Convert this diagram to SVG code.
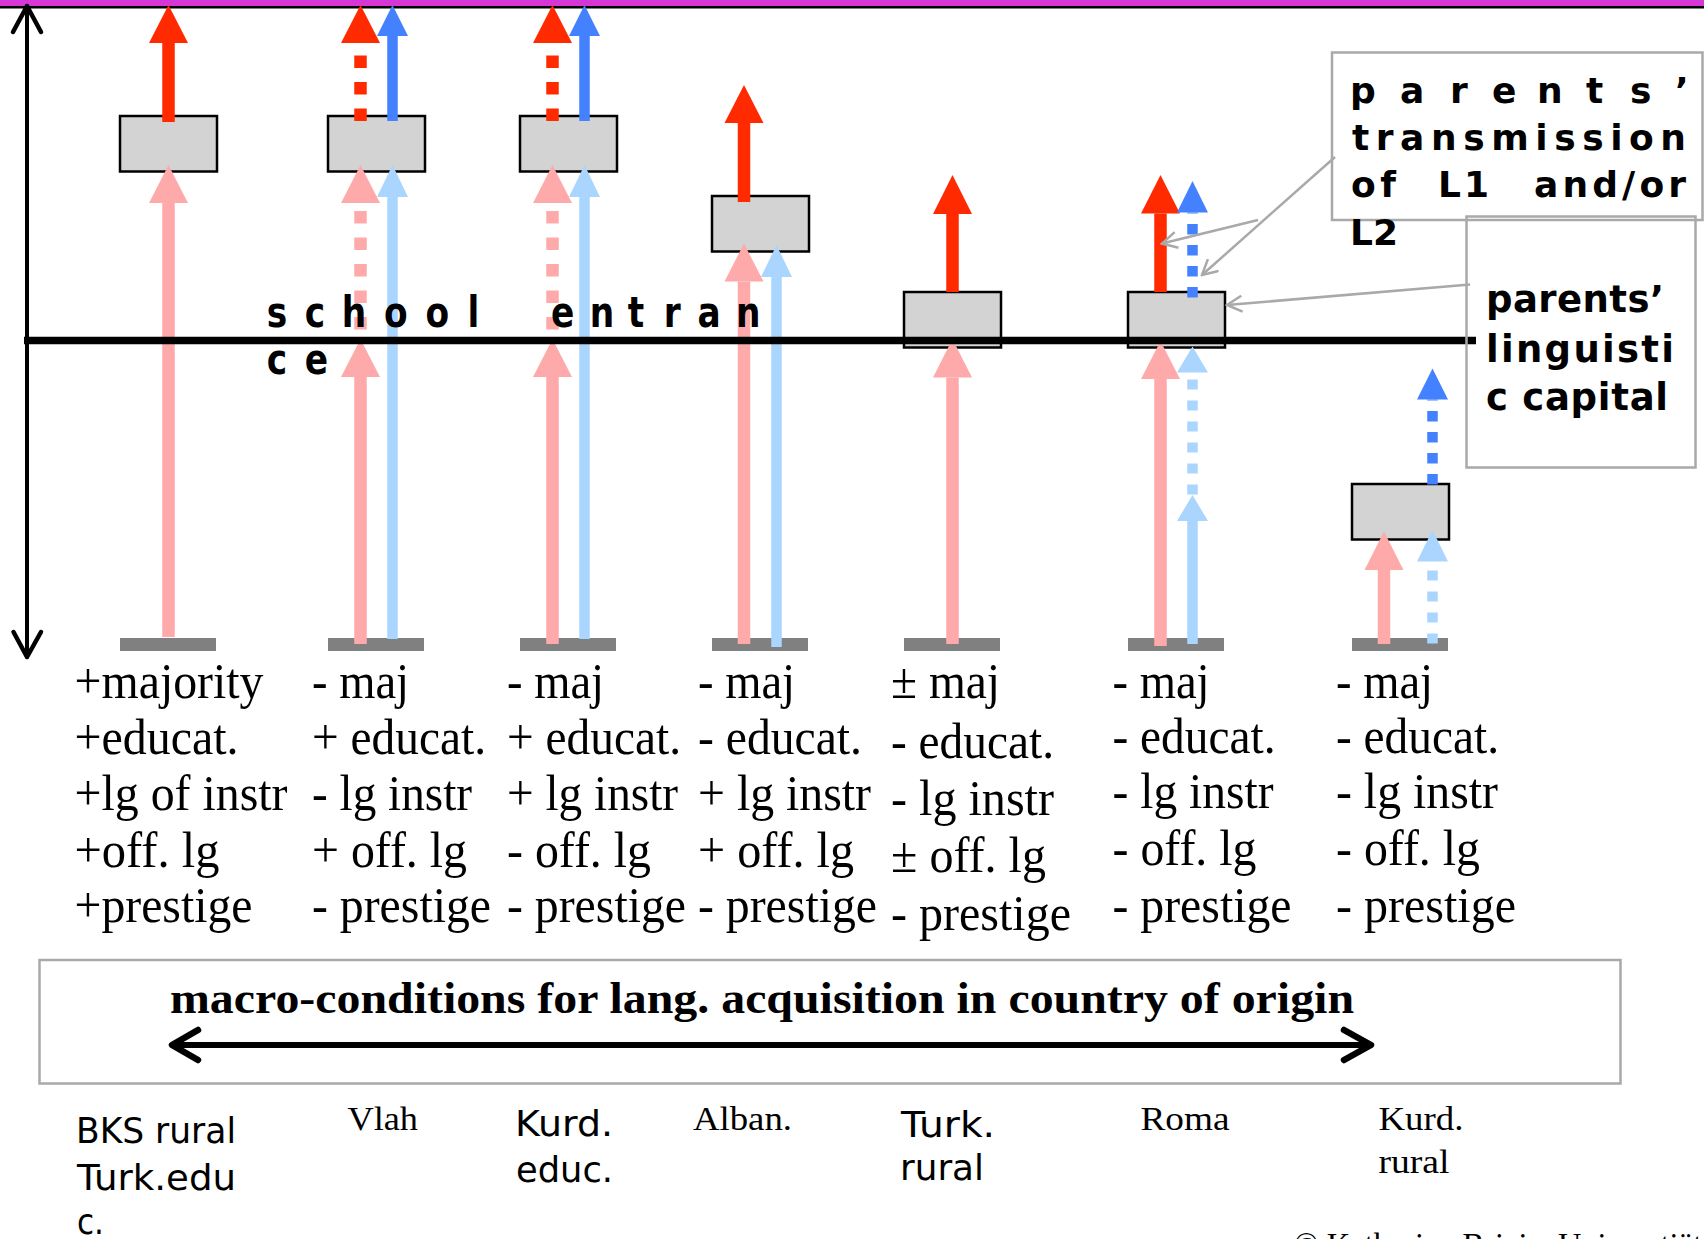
<svg xmlns="http://www.w3.org/2000/svg" width="1704" height="1239" viewBox="0 0 1704 1239">
  <defs>
    <style>
      .box { fill: #D3D3D3; stroke: #000; stroke-width: 2.5; }
      .base { fill: #808080; }
      .frame { fill: none; stroke: #A9A9A9; stroke-width: 2.5; }
      .callout { fill: none; stroke: #A9A9A9; stroke-width: 2.5; }
      .axis { fill: none; stroke: #000; stroke-linecap: round; stroke-linejoin: round; }
      .shaft-r { stroke: #FF2A00; stroke-width: 12.5; }
      .shaft-p { stroke: #FFAAAA; stroke-width: 12.5; }
      .shaft-b { stroke: #4381FF; stroke-width: 10.5; }
      .shaft-lb { stroke: #AAD5FF; stroke-width: 10.5; }
      .dash-r { stroke-dasharray: 12.5 14; }
      .dash-b { stroke-dasharray: 10.5 10.5; }
      .dash-lb { stroke-dasharray: 10 11; }
      .head-r { fill: #FF2A00; }
      .head-p { fill: #FFAAAA; }
      .head-b { fill: #4381FF; }
      .head-lb { fill: #AAD5FF; }
      .sansb { font-family: "DejaVu Sans", "Liberation Sans", sans-serif; font-weight: bold; fill: #000; }
      .sans { font-family: "DejaVu Sans", "Liberation Sans", sans-serif; fill: #000; }
      .serif { font-family: "Liberation Serif", "Times New Roman", serif; fill: #000; }
      .cond { font-size: 50px; }
    </style>
    <marker id="open-head" viewBox="0 0 18 18" refX="16" refY="9" markerWidth="18" markerHeight="18" markerUnits="userSpaceOnUse" orient="auto">
      <path d="M1,1 L16,9 L1,17" fill="none" stroke="#A9A9A9" stroke-width="2.5"/>
    </marker>
  </defs>

  <rect width="1704" height="1239" fill="#FFFFFF"/>

  <!-- title band -->
  <rect x="0" y="0" width="1704" height="6" fill="#D736D6"/>
  <rect x="0" y="6" width="1704" height="2.5" fill="#000"/>

  <!-- vertical scale, arrowed at both ends -->
  <g id="scale-axis">
    <line class="axis" x1="27" y1="6" x2="27" y2="657" stroke-width="4"/>
    <polyline class="axis" points="13,32 27,6 41,32" stroke-width="4.5"/>
    <polyline class="axis" points="13.5,632 27,657 41,632" stroke-width="4.5"/>
  </g>

  <!-- capital boxes and baseline bars, one group per group of speakers -->
  <g id="col-bks">
    <rect class="box" x="120" y="116" width="97" height="55.5"/>
    <rect class="base" x="120" y="638" width="96" height="13"/>
  </g>
  <g id="col-vlah">
    <rect class="box" x="328" y="116" width="97" height="55.5"/>
    <rect class="base" x="328" y="638" width="96" height="13"/>
  </g>
  <g id="col-kurd-educ">
    <rect class="box" x="520" y="116" width="97" height="55.5"/>
    <rect class="base" x="520" y="638" width="96" height="13"/>
  </g>
  <g id="col-alban">
    <rect class="box" x="712" y="196" width="97" height="55.5"/>
    <rect class="base" x="712" y="638" width="96" height="13"/>
  </g>
  <g id="col-turk-rural">
    <rect class="box" x="904" y="292" width="97" height="55.5"/>
    <rect class="base" x="904" y="638" width="96" height="13"/>
  </g>
  <g id="col-roma">
    <rect class="box" x="1128" y="292" width="97" height="55.5"/>
    <rect class="base" x="1128" y="638" width="96" height="13"/>
  </g>
  <g id="col-kurd-rural">
    <rect class="box" x="1352" y="484" width="97" height="55.5"/>
    <rect class="base" x="1352" y="638" width="96" height="13"/>
  </g>

  <!-- arrows: pale = acquisition in country of origin, strong = transmission after migration -->
  <g id="connectors">
    <!-- BKS rural / Turk. educ. -->
    <line class="shaft-p" x1="168.5" y1="637" x2="168.5" y2="203"/>
    <polygon class="head-p" points="149,203 188,203 168.5,165"/>
    <line class="shaft-r" x1="168.5" y1="122" x2="168.5" y2="43"/>
    <polygon class="head-r" points="149,43 188,43 168.5,5"/>

    <!-- Vlah -->
    <line class="shaft-r dash-r" x1="360.5" y1="121" x2="360.5" y2="43"/>
    <polygon class="head-r" points="341,43 380,43 360.5,5"/>
    <line class="shaft-b" x1="392.5" y1="121" x2="392.5" y2="36"/>
    <polygon class="head-b" points="377,36 408,36 392.5,5"/>
    <line class="shaft-p" x1="360.5" y1="644" x2="360.5" y2="377"/>
    <polygon class="head-p" points="341,377 380,377 360.5,339"/>
    <line class="shaft-p dash-r" x1="360.5" y1="329.5" x2="360.5" y2="203"/>
    <polygon class="head-p" points="341,203 380,203 360.5,165"/>
    <line class="shaft-lb" x1="392.5" y1="639" x2="392.5" y2="197"/>
    <polygon class="head-lb" points="377,197 408,197 392.5,165"/>

    <!-- Kurd. educ. -->
    <line class="shaft-r dash-r" x1="552.5" y1="121" x2="552.5" y2="43"/>
    <polygon class="head-r" points="533,43 572,43 552.5,5"/>
    <line class="shaft-b" x1="584.5" y1="121" x2="584.5" y2="36"/>
    <polygon class="head-b" points="569,36 600,36 584.5,5"/>
    <line class="shaft-p" x1="552.5" y1="644" x2="552.5" y2="377"/>
    <polygon class="head-p" points="533,377 572,377 552.5,339"/>
    <line class="shaft-p dash-r" x1="552.5" y1="329.5" x2="552.5" y2="203"/>
    <polygon class="head-p" points="533,203 572,203 552.5,165"/>
    <line class="shaft-lb" x1="584.5" y1="639" x2="584.5" y2="197"/>
    <polygon class="head-lb" points="569,197 600,197 584.5,165"/>

    <!-- Alban. -->
    <line class="shaft-r" x1="744" y1="202" x2="744" y2="123"/>
    <polygon class="head-r" points="724.5,123 763.5,123 744,85"/>
    <line class="shaft-p" x1="744" y1="644" x2="744" y2="281.5"/>
    <polygon class="head-p" points="724.5,281.5 763.5,281.5 744,243.5"/>
    <line class="shaft-lb" x1="776.5" y1="647" x2="776.5" y2="277"/>
    <polygon class="head-lb" points="761,277 792,277 776.5,245"/>

    <!-- Turk. rural -->
    <line class="shaft-r" x1="952.5" y1="292" x2="952.5" y2="214"/>
    <polygon class="head-r" points="933,214 972,214 952.5,175"/>
    <line class="shaft-p" x1="952.5" y1="644" x2="952.5" y2="377.5"/>
    <polygon class="head-p" points="933,377.5 972,377.5 952.5,339"/>

    <!-- Roma -->
    <line class="shaft-r" x1="1160.5" y1="292" x2="1160.5" y2="213.5"/>
    <polygon class="head-r" points="1141,213.5 1180,213.5 1160.5,175"/>
    <line class="shaft-b dash-b" x1="1192.5" y1="297.5" x2="1192.5" y2="212.5"/>
    <polygon class="head-b" points="1177,212.5 1208,212.5 1192.5,181"/>
    <line class="shaft-p" x1="1160.5" y1="646" x2="1160.5" y2="379"/>
    <polygon class="head-p" points="1141,379 1180,379 1160.5,341"/>
    <line class="shaft-lb" x1="1192.5" y1="644" x2="1192.5" y2="521"/>
    <polygon class="head-lb" points="1177,521 1208,521 1192.5,495"/>
    <line class="shaft-lb dash-lb" x1="1192.5" y1="494.5" x2="1192.5" y2="372.5"/>
    <polygon class="head-lb" points="1177,372.5 1208,372.5 1192.5,346.5"/>

    <!-- Kurd. rural -->
    <line class="shaft-p" x1="1384" y1="644" x2="1384" y2="570"/>
    <polygon class="head-p" points="1364.5,570 1403.5,570 1384,531.5"/>
    <line class="shaft-lb dash-lb" x1="1432.5" y1="643.5" x2="1432.5" y2="561.5"/>
    <polygon class="head-lb" points="1417,561.5 1448,561.5 1432.5,530"/>
    <line class="shaft-b dash-b" x1="1432.5" y1="484.5" x2="1432.5" y2="399.5"/>
    <polygon class="head-b" points="1417,399.5 1448,399.5 1432.5,368.5"/>

    <!-- callout pointers -->
    <line class="callout" x1="1258" y1="220" x2="1162" y2="243.5" marker-end="url(#open-head)"/>
    <line class="callout" x1="1335" y1="157" x2="1202" y2="275" marker-end="url(#open-head)"/>
    <line class="callout" x1="1470" y1="284.5" x2="1227" y2="305" marker-end="url(#open-head)"/>
  </g>

  <!-- school entrance threshold -->
  <g id="school-entrance">
    <line x1="24" y1="340.5" x2="1476" y2="340.5" stroke="#000" stroke-width="7.5"/>
    <text class="sansb" font-size="43" transform="scale(0.8,1)" y="326.7" x="333.6 381 427.1 480 531.8 584.3 640 688.8 737.1 784.8 829.6 871.8 920">school entran</text>
    <text class="sansb" font-size="43" transform="scale(0.8,1)" y="374.5" x="333.6 381">ce</text>
  </g>

  <!-- legend boxes -->
  <g id="legend-transmission">
    <rect class="frame" x="1332" y="52.5" width="370.5" height="167.5"/>
    <text class="sansb" font-size="36" y="103" x="1350 1400 1450 1492 1537 1586 1630 1675">parents’</text>
    <text class="sansb" font-size="36" x="1352" y="150" textLength="334">transmission</text>
    <text class="sansb" font-size="36" x="1351" y="197" textLength="45">of</text>
    <text class="sansb" font-size="36" x="1438" y="197" textLength="51">L1</text>
    <text class="sansb" font-size="36" x="1534" y="197" textLength="152">and/or</text>
    <text class="sansb" font-size="36" x="1350" y="245">L2</text>
  </g>
  <g id="legend-capital">
    <rect class="frame" x="1466.5" y="216.5" width="229" height="251"/>
    <text class="sansb" font-size="37" x="1486" y="311.5" textLength="178">parents’</text>
    <text class="sansb" font-size="37" x="1486" y="361.5" textLength="188">linguisti</text>
    <text class="sansb" font-size="37" x="1486" y="410" textLength="182">c capital</text>
  </g>

  <!-- macro-conditions per group -->
  <g id="conditions" class="serif cond">
    <text x="74.5" y="698" textLength="189" lengthAdjust="spacingAndGlyphs">+majority</text>
    <text x="74.5" y="754" textLength="164" lengthAdjust="spacingAndGlyphs">+educat.</text>
    <text x="74.5" y="810" textLength="213" lengthAdjust="spacingAndGlyphs">+lg of instr</text>
    <text x="74.5" y="866.5" textLength="145" lengthAdjust="spacingAndGlyphs">+off. lg</text>
    <text x="74.5" y="922" textLength="178" lengthAdjust="spacingAndGlyphs">+prestige</text>

    <text x="312" y="698" textLength="97" lengthAdjust="spacingAndGlyphs">- maj</text>
    <text x="312" y="754" textLength="174" lengthAdjust="spacingAndGlyphs">+ educat.</text>
    <text x="312" y="810" textLength="160" lengthAdjust="spacingAndGlyphs">- lg instr</text>
    <text x="312" y="866.5" textLength="155" lengthAdjust="spacingAndGlyphs">+ off. lg</text>
    <text x="312" y="922" textLength="179" lengthAdjust="spacingAndGlyphs">- prestige</text>

    <text x="507" y="698" textLength="97" lengthAdjust="spacingAndGlyphs">- maj</text>
    <text x="507" y="754" textLength="174" lengthAdjust="spacingAndGlyphs">+ educat.</text>
    <text x="507" y="810" textLength="171" lengthAdjust="spacingAndGlyphs">+ lg instr</text>
    <text x="507" y="866.5" textLength="144" lengthAdjust="spacingAndGlyphs">- off. lg</text>
    <text x="507" y="922" textLength="179" lengthAdjust="spacingAndGlyphs">- prestige</text>

    <text x="698" y="698" textLength="97" lengthAdjust="spacingAndGlyphs">- maj</text>
    <text x="698" y="754" textLength="164" lengthAdjust="spacingAndGlyphs">- educat.</text>
    <text x="698" y="810" textLength="173" lengthAdjust="spacingAndGlyphs">+ lg instr</text>
    <text x="698" y="866.5" textLength="156" lengthAdjust="spacingAndGlyphs">+ off. lg</text>
    <text x="698" y="922" textLength="179" lengthAdjust="spacingAndGlyphs">- prestige</text>

    <text x="891" y="698" textLength="109" lengthAdjust="spacingAndGlyphs">± maj</text>
    <text x="891" y="758.3" textLength="163" lengthAdjust="spacingAndGlyphs">- educat.</text>
    <text x="891" y="815" textLength="163" lengthAdjust="spacingAndGlyphs">- lg instr</text>
    <text x="891" y="871.7" textLength="155" lengthAdjust="spacingAndGlyphs">± off. lg</text>
    <text x="891" y="930" textLength="180" lengthAdjust="spacingAndGlyphs">- prestige</text>

    <text x="1112.5" y="698" textLength="97" lengthAdjust="spacingAndGlyphs">- maj</text>
    <text x="1112.5" y="753.3" textLength="163" lengthAdjust="spacingAndGlyphs">- educat.</text>
    <text x="1112.5" y="808" textLength="161" lengthAdjust="spacingAndGlyphs">- lg instr</text>
    <text x="1112.5" y="865" textLength="144" lengthAdjust="spacingAndGlyphs">- off. lg</text>
    <text x="1112.5" y="921.7" textLength="179" lengthAdjust="spacingAndGlyphs">- prestige</text>

    <text x="1336" y="698" textLength="97" lengthAdjust="spacingAndGlyphs">- maj</text>
    <text x="1336" y="753.3" textLength="163" lengthAdjust="spacingAndGlyphs">- educat.</text>
    <text x="1336" y="808" textLength="162" lengthAdjust="spacingAndGlyphs">- lg instr</text>
    <text x="1336" y="865" textLength="144" lengthAdjust="spacingAndGlyphs">- off. lg</text>
    <text x="1336" y="921.7" textLength="180" lengthAdjust="spacingAndGlyphs">- prestige</text>
  </g>

  <!-- macro-conditions scale -->
  <g id="macro-scale">
    <rect class="frame" x="39.5" y="960" width="1581" height="123.5"/>
    <text class="serif" font-size="45" font-weight="bold" x="170" y="1013.3" textLength="1184" lengthAdjust="spacingAndGlyphs">macro-conditions for lang. acquisition in country of origin</text>
    <line x1="174" y1="1045" x2="1369" y2="1045" stroke="#000" stroke-width="6"/>
    <polyline class="axis" points="198,1030 172,1045 198,1060" stroke-width="6.5"/>
    <polyline class="axis" points="1344,1030 1371,1045 1344,1060" stroke-width="6.5"/>
  </g>

  <!-- group labels -->
  <g id="group-labels">
    <text class="sans" font-size="36" x="76" y="1143.3" textLength="160" lengthAdjust="spacingAndGlyphs">BKS rural</text>
    <text class="sans" font-size="36" x="77" y="1190" textLength="159" lengthAdjust="spacingAndGlyphs">Turk.edu</text>
    <text class="sans" font-size="36" x="77" y="1234" textLength="27" lengthAdjust="spacingAndGlyphs">c.</text>
    <text class="serif" font-size="34" x="347.5" y="1130" textLength="70.5" lengthAdjust="spacingAndGlyphs">Vlah</text>
    <text class="sans" font-size="36" x="515" y="1136" textLength="98" lengthAdjust="spacingAndGlyphs">Kurd.</text>
    <text class="sans" font-size="36" x="516" y="1181.5" textLength="97" lengthAdjust="spacingAndGlyphs">educ.</text>
    <text class="serif" font-size="34" x="693" y="1130" textLength="99" lengthAdjust="spacingAndGlyphs">Alban.</text>
    <text class="sans" font-size="36" x="901" y="1136.5" textLength="94" lengthAdjust="spacingAndGlyphs">Turk.</text>
    <text class="sans" font-size="36" x="900" y="1180" textLength="84" lengthAdjust="spacingAndGlyphs">rural</text>
    <text class="serif" font-size="34" x="1140.5" y="1130" textLength="89" lengthAdjust="spacingAndGlyphs">Roma</text>
    <text class="serif" font-size="34" x="1378.5" y="1130" textLength="85" lengthAdjust="spacingAndGlyphs">Kurd.</text>
    <text class="serif" font-size="34" x="1378.5" y="1173.3" textLength="71" lengthAdjust="spacingAndGlyphs">rural</text>
  </g>

  <text class="serif" font-size="33" x="1294" y="1256" textLength="408" lengthAdjust="spacingAndGlyphs">© Katharina Brizic, Universtiät</text>
</svg>
